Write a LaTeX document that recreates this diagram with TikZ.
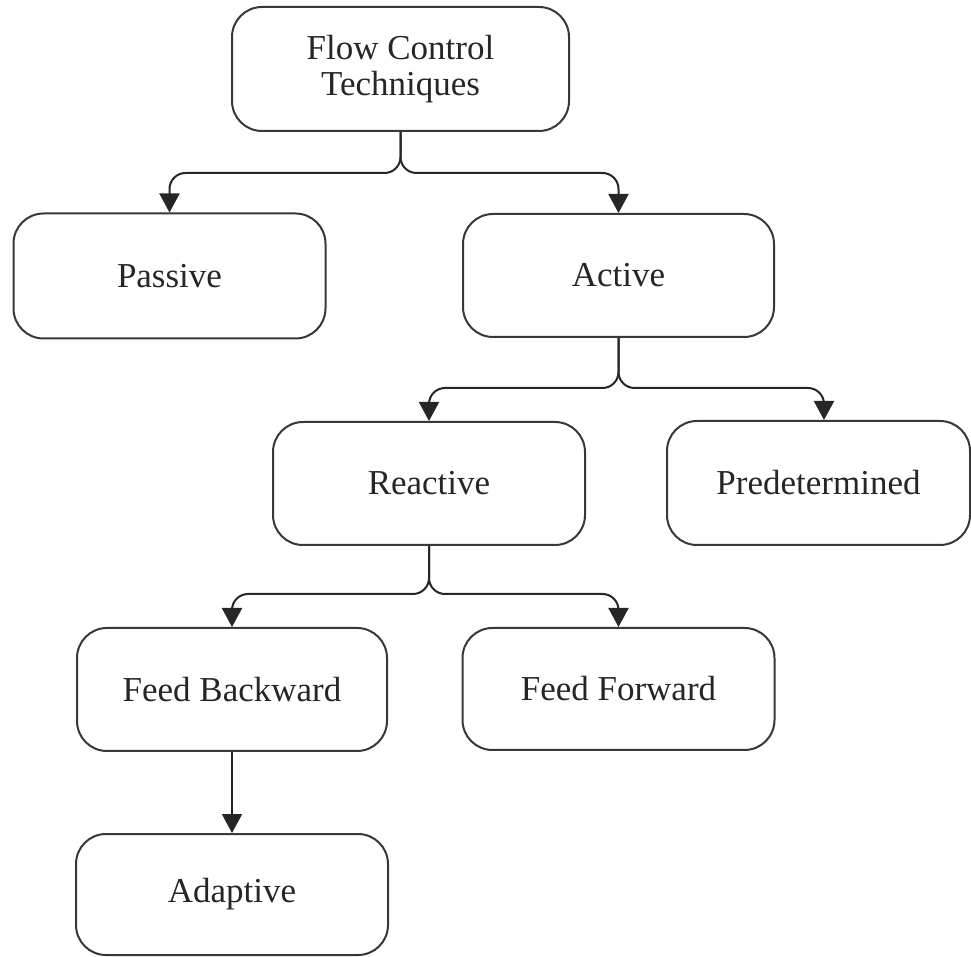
\documentclass[tikz,border=0pt]{standalone}
\usepackage{fontspec}
\setmainfont{Liberation Serif}
\usetikzlibrary{arrows.meta}
\begin{document}
\begin{tikzpicture}[x=0.5pt,y=-0.5pt,
  box/.style={draw=black!78, line width=1pt, rounded corners=15pt, fill=white,
    align=center, text=black!85, inner sep=0pt,
    font=\fontsize{17.5}{18}\selectfont},
  link/.style={draw=black!85, line width=1pt, rounded corners=8pt,
    -{Triangle[width=10pt,length=9.5pt]}}]
  \useasboundingbox (0,0) rectangle (971,957);

  % boxes, positioned by centre (pixel grid, y downward)
  \node[box, minimum width=168.5pt, minimum height=62pt] (fct) at (400.5,69)
    {Flow Control\\Techniques};
  \node[box, minimum width=156pt, minimum height=62.5pt] (passive) at (169.5,276) {Passive};
  \node[box, minimum width=155.5pt, minimum height=61.5pt] (active) at (618.5,275.5) {Active};
  \node[box, minimum width=156pt, minimum height=61.5pt] (reactive) at (429,483.5) {Reactive};
  \node[box, minimum width=151.5pt, minimum height=62pt] (pred) at (818.5,483) {Predetermined};
  \node[box, minimum width=155pt, minimum height=61.5pt] (fb) at (232,689.5) {Feed Backward};
  \node[box, minimum width=156pt, minimum height=61pt] (ff) at (618.5,689) {Feed Forward};
  \node[box, minimum width=156pt, minimum height=60.5pt] (adapt) at (232,894.5) {Adaptive};

  % branching connectors
  \draw[link] (fct.south) -- ++(0,41) -| (passive.north);
  \draw[link] (fct.south) -- ++(0,41) -| (active.north);
  \draw[link] (active.south) -- ++(0,50) -| (reactive.north);
  \draw[link] (active.south) -- ++(0,50) -| ([xshift=2.75pt]pred.north);
  \draw[link] (reactive.south) -- ++(0,48) -| (fb.north);
  \draw[link] (reactive.south) -- ++(0,48) -| (ff.north);
  \draw[link] (fb.south) -- (adapt.north);
\end{tikzpicture}
\end{document}
